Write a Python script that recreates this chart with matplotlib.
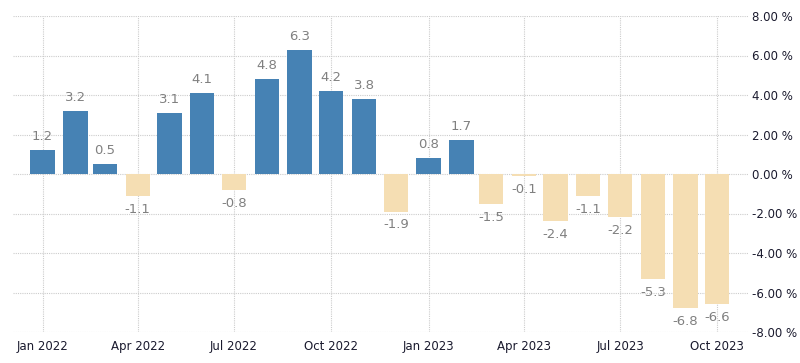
import numpy as np
import pandas as pd
import matplotlib
matplotlib.use("Agg")
import matplotlib.pyplot as plt

months = pd.date_range("2022-01-01", "2023-10-01", freq="MS")
values = [1.2, 3.2, 0.5, -1.1, 3.1, 4.1, -0.8, 4.8, 6.3, 4.2, 3.8, -1.9,
          0.8, 1.7, -1.5, -0.1, -2.4, -1.1, -2.2, -5.3, -6.8, -6.6]
tick_dates = pd.date_range("2022-01-01", "2023-10-01", freq="3MS")
tick_labels = [d.strftime("%b %Y") for d in tick_dates]
y_ticks = [-8, -6, -4, -2, 0, 2, 4, 6, 8]

plt.rcParams["font.family"] = ["DejaVu Sans"]

fig = plt.figure(figsize=(8, 3.63), dpi=100)
ax = fig.add_axes([13 / 800, 1 - 332 / 363, 735 / 800, 316 / 363])

colors = ["#4682B4" if v >= 0 else "#F5DEB3" for v in values]
ax.bar(months, values, width=23, color=colors, zorder=2)

for d, v in zip(months, values):
    off = 5 if v >= 0 else -5
    ax.annotate(f"{v:.1f}", (d, v), xytext=(0, off), textcoords="offset points",
                ha="center", va="bottom" if v >= 0 else "top",
                fontsize=9.5, color="#808080", zorder=3)

ax.set_ylim(-8, 8)
ax.set_xlim(months[0] - pd.Timedelta(days=28), months[-1] + pd.Timedelta(days=29))
ax.set_yticks(y_ticks)
ax.set_yticklabels([f"{t:.2f} %" for t in y_ticks])
ax.yaxis.tick_right()
ax.set_xticks(tick_dates)
ax.set_xticklabels(tick_labels)
ax.tick_params(axis="both", length=0, labelsize=8.5, colors="#1a1a2e")
ax.tick_params(axis="y", pad=3)
ax.tick_params(axis="x", pad=6)
ax.grid(True, color="#cccccc", linestyle=(0, (1, 1)), linewidth=0.8, zorder=0)
for s in ax.spines.values():
    s.set_visible(False)

fig.savefig("out.png", dpi=100)
